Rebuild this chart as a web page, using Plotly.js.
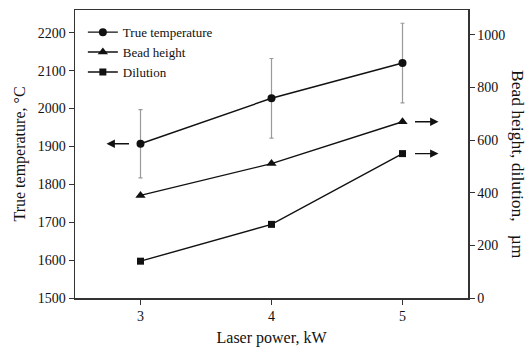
<!DOCTYPE html>
<html>
<head>
<meta charset="utf-8">
<script src="https://cdn.plot.ly/plotly-3.0.1.min.js"></script>
<style>
  html, body { margin: 0; padding: 0; background: #fff; }
  #chart { width: 529px; height: 347px; }
</style>
</head>
<body>
<div id="chart"></div>
<script>
// Laser power levels (kW)
const laserPower = [3, 4, 5];

// True temperature (°C) with its scatter, left axis
const trueTemperature = [1907, 2027, 2120];
const temperatureError = [90, 105, 105];

// Bead height and dilution (µm), right axis
const beadHeight = [390, 511, 670];
const dilution = [140, 280, 549];

const seriesNames = ['True temperature', 'Bead height', 'Dilution'];

const serif = 'Liberation Serif, Times New Roman, serif';
const ink = '#111';

const traces = [
  {
    x: laserPower, y: trueTemperature, name: seriesNames[0],
    type: 'scatter', mode: 'lines+markers',
    line: { color: ink, width: 1.4 },
    marker: { symbol: 'circle', size: 8, color: ink },
    error_y: { type: 'data', array: temperatureError, visible: true,
               color: '#9a9a9a', thickness: 1.2, width: 2 },
    yaxis: 'y'
  },
  {
    x: laserPower, y: beadHeight, name: seriesNames[1],
    type: 'scatter', mode: 'lines+markers',
    line: { color: ink, width: 1.4 },
    marker: { symbol: 'triangle-up', size: 9, color: ink },
    yaxis: 'y2'
  },
  {
    x: laserPower, y: dilution, name: seriesNames[2],
    type: 'scatter', mode: 'lines+markers',
    line: { color: ink, width: 1.4 },
    marker: { symbol: 'square', size: 7, color: ink },
    yaxis: 'y2'
  }
];

// Arrows showing which axis each series belongs to
const arrowBase = {
  text: '', showarrow: true, arrowhead: 2, arrowsize: 1.2,
  arrowwidth: 1.4, arrowcolor: ink, axref: 'pixel', ayref: 'pixel', ay: 0
};
const annotations = [
  Object.assign({}, arrowBase, { x: laserPower[0], y: trueTemperature[0], xref: 'x', yref: 'y', xshift: -34, ax: 24 }),
  Object.assign({}, arrowBase, { x: laserPower[2], y: beadHeight[2], xref: 'x', yref: 'y2', xshift: 36, ax: -25 }),
  Object.assign({}, arrowBase, { x: laserPower[2], y: dilution[2], xref: 'x', yref: 'y2', xshift: 36, ax: -25 }),
  {
    // right-hand axis title, reading top to bottom
    text: 'Bead height, dilution,\u00a0\u00a0\u00a0µm', textangle: 90, showarrow: false,
    xref: 'paper', yref: 'paper', x: 1, y: 0.5, xanchor: 'center', yanchor: 'middle',
    xshift: 50, yshift: -10, font: { family: serif, size: 17.5, color: ink }
  }
];

const layout = {
  width: 529, height: 347,
  margin: { l: 75, r: 61, t: 10, b: 49 },
  paper_bgcolor: '#fff', plot_bgcolor: '#fff',
  font: { family: serif, size: 14, color: ink },
  showlegend: true,
  legend: {
    x: 0.02, y: 0.975, xanchor: 'left', yanchor: 'top',
    bgcolor: 'rgba(0,0,0,0)', borderwidth: 0,
    font: { family: serif, size: 13, color: ink },
    tracegroupgap: 0, itemwidth: 30
  },
  xaxis: {
    range: [2.5, 5.5], tickvals: laserPower, ticktext: laserPower.map(String),
    ticks: 'outside', ticklen: 5, tickcolor: '#333', tickwidth: 1,
    showline: true, linecolor: '#333', linewidth: 1.5, mirror: true,
    showgrid: false, zeroline: false,
    title: { text: 'Laser power, kW', font: { family: serif, size: 16, color: ink }, standoff: 8 }
  },
  yaxis: {
    range: [1500, 2260], dtick: 100,
    ticks: 'outside', ticklen: 5, tickcolor: '#333', tickwidth: 1,
    showline: true, linecolor: '#333', linewidth: 1.5,
    showgrid: false, zeroline: false,
    title: { text: 'True temperature, °C', font: { family: serif, size: 16, color: ink }, standoff: 8 }
  },
  yaxis2: {
    overlaying: 'y', side: 'right', range: [0, 1095], dtick: 200,
    ticks: 'outside', ticklen: 5, tickcolor: '#333', tickwidth: 1,
    showline: true, linecolor: '#333', linewidth: 1.5,
    showgrid: false, zeroline: false
  },
  annotations: annotations
};

Plotly.newPlot('chart', traces, layout, { displayModeBar: false, staticPlot: true });
</script>
</body>
</html>
